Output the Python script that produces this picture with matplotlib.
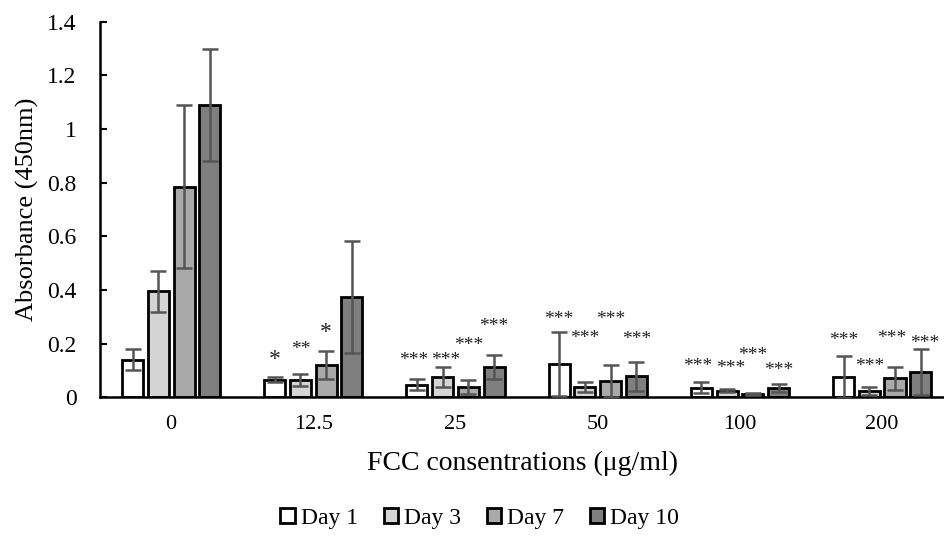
import matplotlib
matplotlib.use("Agg")
import matplotlib.pyplot as plt
import numpy as np

plt.rcParams['font.family'] = ['Liberation Serif', 'DejaVu Serif']

categories = ["0", "12.5", "25", "50", "100", "200"]
series_names = ["Day 1", "Day 3", "Day 7", "Day 10"]
day1 = [0.14, 0.065, 0.047, 0.124, 0.035, 0.075]
day3 = [0.395, 0.065, 0.075, 0.038, 0.024, 0.022]
day7 = [0.785, 0.12, 0.038, 0.06, 0.011, 0.07]
day10 = [1.09, 0.373, 0.113, 0.077, 0.034, 0.094]
err1 = [0.038, 0.01, 0.02, 0.12, 0.02, 0.08]
err3 = [0.077, 0.022, 0.038, 0.02, 0.006, 0.015]
err7 = [0.305, 0.052, 0.025, 0.058, 0.004, 0.043]
err10 = [0.21, 0.21, 0.045, 0.055, 0.015, 0.085]
stars1 = ["", "*", "***", "***", "***", "***"]
stars3 = ["", "**", "***", "***", "***", "***"]
stars7 = ["", "*", "***", "***", "***", "***"]
stars10 = ["", "", "***", "***", "***", "***"]
# heights of significance labels (data units)
star_y1 = [0, 0.157, 0.152, 0.305, 0.128, 0.228]
star_y3 = [0, 0.194, 0.152, 0.236, 0.122, 0.131]
star_y7 = [0, 0.258, 0.207, 0.305, 0.170, 0.235]
star_y10 = [0, 0, 0.278, 0.231, 0.115, 0.216]
yticks = [0, 0.2, 0.4, 0.6, 0.8, 1, 1.2, 1.4]
ytick_labels = ["0", "0.2", "0.4", "0.6", "0.8", "1", "1.2", "1.4"]

values = [day1, day3, day7, day10]
errs = [err1, err3, err7, err10]
stars = [stars1, stars3, stars7, stars10]
star_ys = [star_y1, star_y3, star_y7, star_y10]
colors = ["#ffffff", "#d4d4d4", "#a9a9a9", "#7f7f7f"]

fig = plt.figure(figsize=(9.44, 5.47), dpi=100)
ax = fig.add_axes([0.106, 0.274, 0.894, 0.686])

x = np.arange(len(categories))
pitch = 0.181
width = 0.148
n_ser = len(values)
handles = []
for i in range(n_ser):
    pos = x + (i - 1.5) * pitch
    b = ax.bar(pos, values[i], width=width, color=colors[i], edgecolor="black",
               linewidth=2.0, label=series_names[i], zorder=2)
    ax.errorbar(pos, values[i], yerr=errs[i], fmt="none", ecolor="#555555",
                elinewidth=1.8, capsize=5.5, capthick=1.8, zorder=3)
    handles.append(b)

# significance labels, nudged apart when neighbours sit at almost the same height
for j in range(len(categories)):
    dxs = [0.0] * n_ser
    for i in range(n_ser - 1):
        if stars[i][j] and stars[i + 1][j] and abs(star_ys[i][j] - star_ys[i + 1][j]) < 0.03:
            dxs[i] -= 2.5
            dxs[i + 1] += 2.5
    for i in range(n_ser):
        s = stars[i][j]
        if s:
            px = x[j] + (i - 1.5) * pitch
            ax.annotate(s, xy=(px, star_ys[i][j]), xytext=(dxs[i], -3),
                        textcoords="offset points", ha="center", va="center",
                        fontsize=17 if len(s) == 1 else 14, color="#222222")

ax.set_xlim(-0.5, 5.435)
ax.set_ylim(0, 1.4)
ax.set_yticks(yticks)
ax.set_yticklabels(ytick_labels)
ax.set_xticks(x)
ax.set_xticklabels(categories)
ax.tick_params(axis="y", direction="in", length=5, width=1.5, labelsize=17, pad=17)
ax.tick_params(axis="x", length=0, labelsize=16, pad=13)
for s in ["top", "right"]:
    ax.spines[s].set_visible(False)
ax.spines["left"].set_linewidth(1.8)
ax.spines["bottom"].set_linewidth(1.8)
ax.set_ylabel("Absorbance (450nm)", fontsize=19, labelpad=6)
ax.set_xlabel("FCC consentrations (\u03bcg/ml)", fontsize=20, labelpad=12)

fig.legend(handles=handles, labels=series_names, loc="center", bbox_to_anchor=(0.508, 0.053),
           ncol=4, frameon=False, fontsize=17, handlelength=0.6, handleheight=0.6,
           handletextpad=0.25, columnspacing=1.1)

fig.savefig("out.png", dpi=100)
